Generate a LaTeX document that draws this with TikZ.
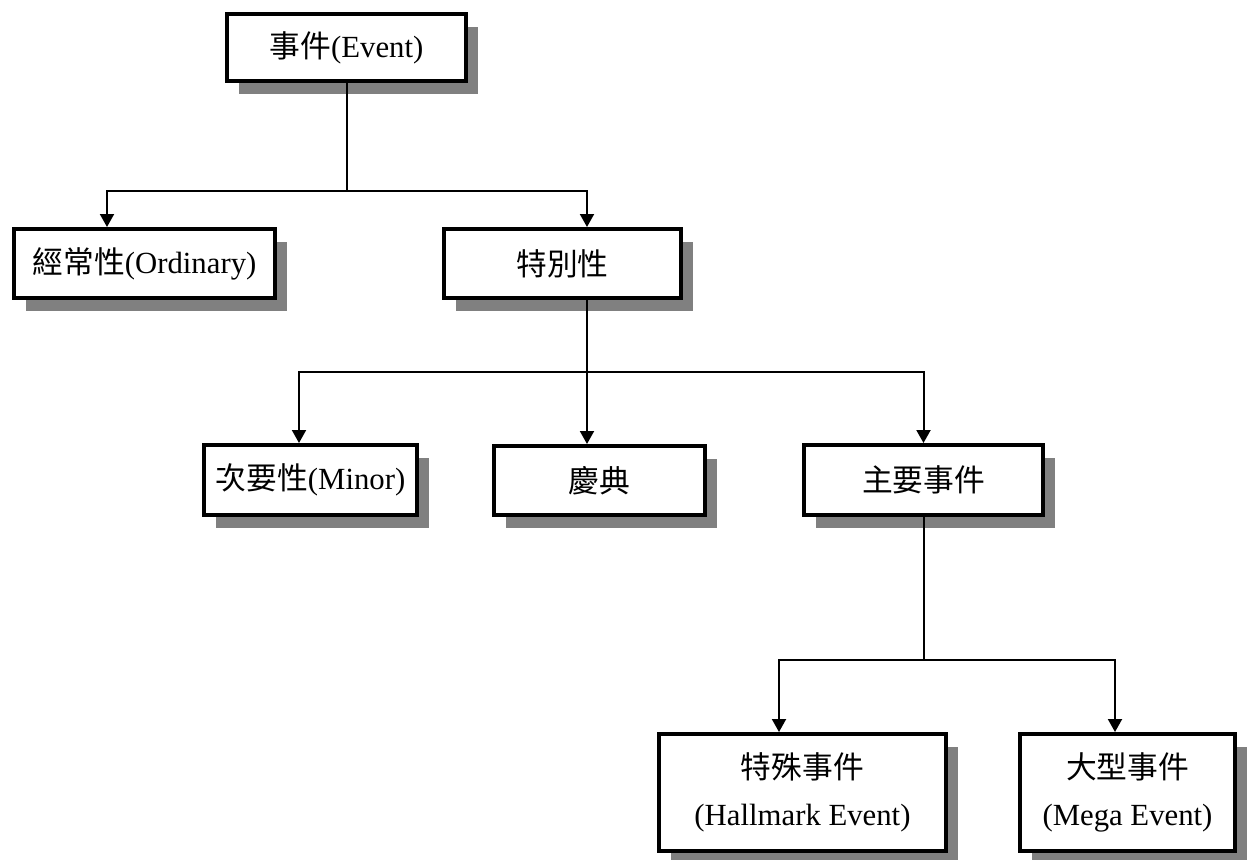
\documentclass[tikz,border=0pt]{standalone}
\usepackage{fontspec}
\setmainfont{Liberation Serif}
\newfontfamily\cjk{Noto Sans CJK TC}
\usepackage{tikz}
\usetikzlibrary{arrows.meta,shadows}

\begin{document}
\begin{tikzpicture}[>={Triangle[length=.26cm,width=.28cm]},
                    every node/.style={font=\fontsize{17.5}{27}\selectfont},
                    box/.style={draw=black, line width=.08cm, fill=white, inner sep=0pt,
                                minimum height=1.38cm, align=center,
                                drop shadow={shadow xshift=.24cm, shadow yshift=-.26cm,
                                             fill=black!50, opacity=1}},
                    link/.style={draw, line width=.04cm}]
\useasboundingbox (0,0) rectangle (25.1,-17.2);

% nodes
\node[box, minimum width=4.78cm, minimum height=1.34cm] (ev) at (6.93,-0.95) {{\cjk 事件}(Event)};
\node[box, minimum width=5.22cm] (ord) at (2.89,-5.27) {{\cjk 經常性}(Ordinary)};
\node[box, minimum width=4.74cm] (spec) at (11.25,-5.27) {{\cjk 特別性}};
\node[box, minimum width=4.26cm, minimum height=1.40cm] (minor) at (6.21,-9.60) {{\cjk 次要性}(Minor)};
\node[box, minimum width=4.22cm] (fest) at (11.99,-9.61) {{\cjk 慶典}};
\node[box, minimum width=4.78cm, minimum height=1.40cm] (major) at (18.47,-9.60) {{\cjk 主要事件}};
\node[box, minimum width=5.74cm, minimum height=2.34cm] (hall) at (16.05,-15.85) {{\cjk 特殊事件}\\(Hallmark Event)};
\node[box, minimum width=4.30cm, minimum height=2.34cm] (mega) at (22.55,-15.85) {{\cjk 大型事件}\\(Mega Event)};

% level 1
\draw[link] (ev.south) -- ++(0,-2.15) coordinate (j1);
\draw[link,->] (j1) -| ([xshift=-.75cm]ord.north);
\draw[link,->] (j1) -| ([xshift=.49cm]spec.north);

% level 2
\draw[link] ([xshift=.49cm]spec.south) -- ++(0,-1.44) coordinate (j2);
\draw[link,->] (j2) -| ([xshift=-.23cm]minor.north);
\draw[link,->] (j2) -- (fest.north -| j2);
\draw[link,->] (j2) -| (major.north);

% level 3
\draw[link] (major.south) -- ++(0,-2.86) coordinate (j3);
\draw[link,->] (j3) -| ([xshift=-.47cm]hall.north);
\draw[link,->] (j3) -| ([xshift=-.25cm]mega.north);
\end{tikzpicture}
\end{document}
